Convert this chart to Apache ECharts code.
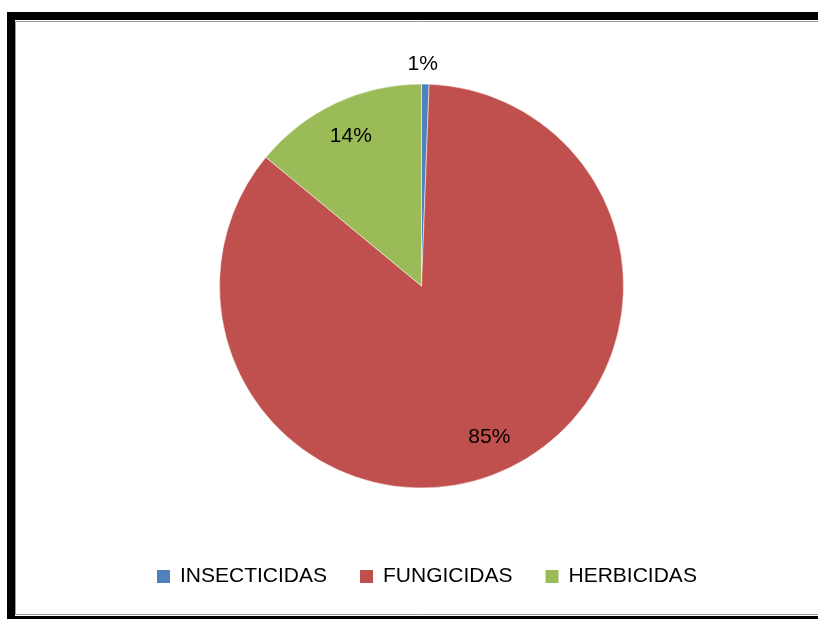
<!DOCTYPE html>
<html>
<head>
<meta charset="utf-8">
<script src="https://cdn.jsdelivr.net/npm/echarts@6/dist/echarts.min.js"></script>
<style>
  html, body { margin: 0; padding: 0; background: #fff; }
  #chart { width: 818px; height: 619px; }
</style>
</head>
<body>
<div id="chart"></div>
<script>
// datos del grafico
var categorias = ['INSECTICIDAS', 'FUNGICIDAS', 'HERBICIDAS'];
var valores = [0.6, 85.4, 14];
var colores = ['#4F81BD', '#C0504D', '#9BBB59'];

var chart = echarts.init(document.getElementById('chart'));

var datos = categorias.map(function (c, i) {
  return { name: c, value: valores[i], itemStyle: { color: colores[i] } };
});

// serie invisible solo para colocar las etiquetas mas cerca del borde
var etiquetas = categorias.map(function (c, i) {
  var item = { name: c, value: valores[i] };
  if (i === 0) {
    item.label = { position: 'outside' };
    item.labelLine = { show: false, length: 20, length2: 0 };
  }
  return item;
});

var option = {
  animation: false,
  graphic: [
    {
      type: 'rect',
      shape: { x: 11, y: 16, width: 1000, height: 604 },
      style: { fill: 'none', stroke: '#000', lineWidth: 8 },
      silent: true
    },
    {
      type: 'rect',
      shape: { x: 15.5, y: 21.5, width: 1000, height: 593 },
      style: { fill: 'none', stroke: '#999', lineWidth: 1 },
      silent: true
    }
  ],
  legend: {
    data: categorias,
    top: 561,
    left: 150,
    itemWidth: 15,
    itemHeight: 15,
    itemGap: 31,
    icon: 'rect',
    textStyle: {
      fontFamily: 'Liberation Sans',
      fontSize: 21,
      color: '#000',
      padding: [0, 0, 0, 4]
    }
  },
  series: [
    {
      type: 'pie',
      center: [421.5, 286],
      radius: [0, 202],
      startAngle: 90,
      clockwise: true,
      silent: true,
      label: { show: false },
      labelLine: { show: false },
      itemStyle: { borderColor: '#fff', borderWidth: 0.5 },
      data: datos
    },
    {
      type: 'pie',
      center: [421.5, 286],
      radius: [124, 202],
      startAngle: 90,
      clockwise: true,
      silent: true,
      percentPrecision: 0,
      itemStyle: { color: 'rgba(0,0,0,0)' },
      label: {
        show: true,
        position: 'inside',
        formatter: '{d}%',
        fontFamily: 'Liberation Sans',
        fontSize: 21,
        color: '#000'
      },
      labelLine: { show: false },
      labelLayout: function (p) {
        if (p.dataIndex === 0) return { align: 'center', dx: -8 };
      },
      data: etiquetas
    }
  ]
};

chart.setOption(option);
</script>
</body>
</html>
